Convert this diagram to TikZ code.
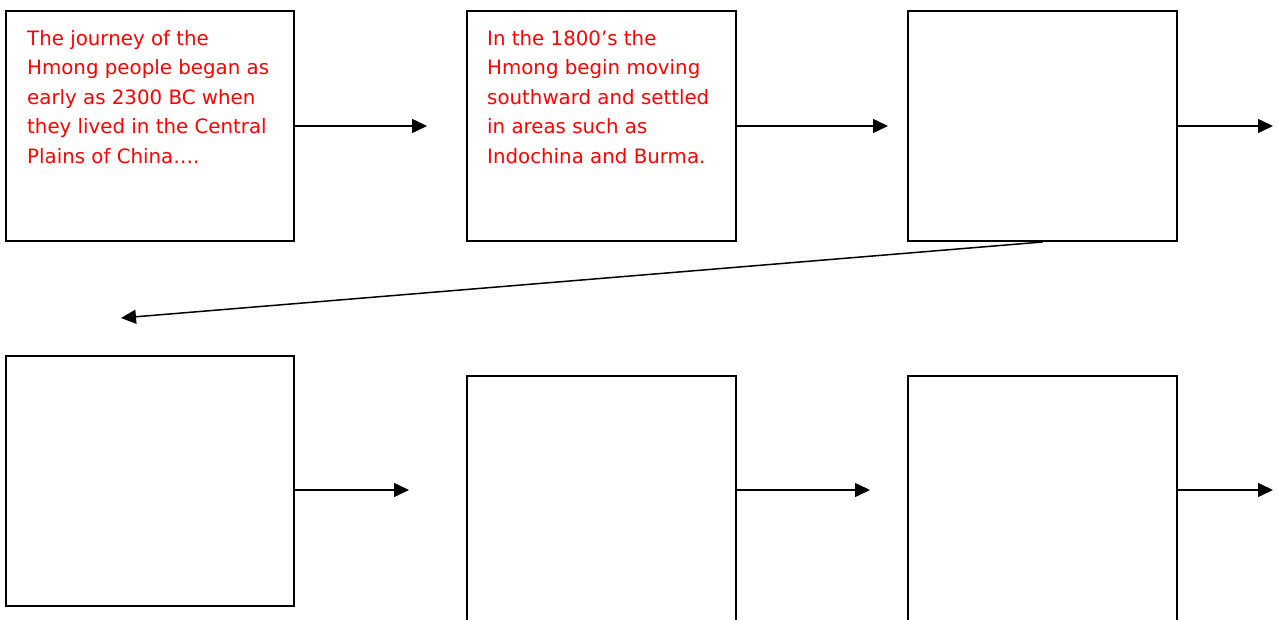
\documentclass[tikz,border=0pt]{standalone}
\usepackage{fontspec}
\setmainfont{DejaVu Sans}
\usetikzlibrary{arrows.meta}
\tikzset{
  stage/.style={draw=black, line width=2pt, fill=white, inner sep=0pt, anchor=north west},
  flow/.style={draw=black, line width=1.5pt, -{Triangle[length=15pt,width=14pt]}},
  story/.style={text=red, inner sep=0pt, anchor=north west, align=left,
    font=\fontsize{19.8}{29.5}\selectfont}
}
\begin{document}
\begin{tikzpicture}[x=1pt,y=-1pt]
  \useasboundingbox (0,0) rectangle (1278,620);

  % top row of stages
  \node[stage, minimum width=288pt, minimum height=230pt] (A) at (5,10) {};
  \node[stage, minimum width=269pt, minimum height=230pt] (B) at (466,10) {};
  \node[stage, minimum width=269pt, minimum height=230pt] (C) at (907,10) {};

  % bottom row of stages
  \node[stage, minimum width=288pt, minimum height=250pt] (D) at (5,355) {};
  \node[stage, minimum width=269pt, minimum height=270pt] (E) at (466,375) {};
  \node[stage, minimum width=269pt, minimum height=270pt] (F) at (907,375) {};

  % stage texts
  \node[story] (tA) at (27,30) {The journey of the\\Hmong people began as\\early as 2300 BC when\\they lived in the Central\\Plains of China….};
  \node[story] (tB) at (487,30) {In the 1800’s the\\Hmong begin moving\\southward and settled\\in areas such as\\Indochina and Burma.};

  % loose arrow ends
  \coordinate (eA) at (427,126);
  \coordinate (eB) at (888,126);
  \coordinate (eC) at (1273,126);
  \coordinate (eTurn) at (121,318);
  \coordinate (eD) at (409,490);
  \coordinate (eE) at (870,490);
  \coordinate (eF) at (1273,490);

  % connectors
  \draw[flow] (A.east |- eA) -- (eA);
  \draw[flow] (B.east |- eB) -- (eB);
  \draw[flow] (C.east |- eC) -- (eC);
  \draw[flow] (C.south) -- (eTurn);
  \draw[flow] (D.east |- eD) -- (eD);
  \draw[flow] (E.east |- eE) -- (eE);
  \draw[flow] (F.east |- eF) -- (eF);
\end{tikzpicture}
\end{document}
